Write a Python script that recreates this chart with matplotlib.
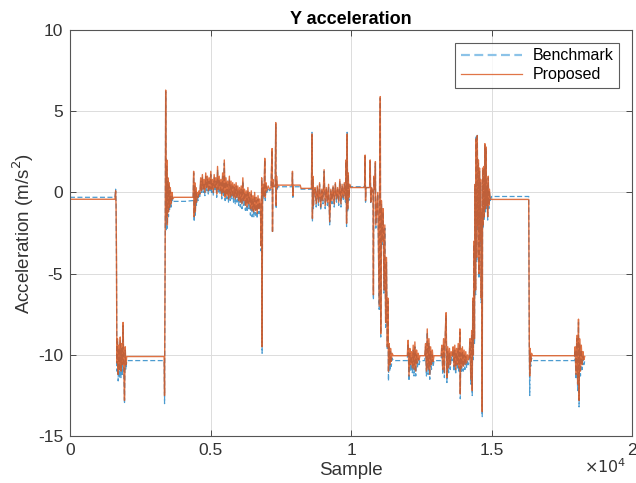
import numpy as np
import matplotlib
matplotlib.use("Agg")
import matplotlib.pyplot as plt
from matplotlib.ticker import FuncFormatter
from matplotlib.lines import Line2D

# ---- data (sample index, proposed, benchmark) ----
sample = [
    0, 1600,
    1625, 1640, 1655, 1670,
    1690, 1715, 1740, 1765, 1790, 1815, 1840, 1865, 1890, 1915, 1940, 1965, 1990,
    2020, 3350,
    3365, 3385, 3405, 3425, 3445, 3465, 3485, 3505, 3525, 3545, 3570, 3600, 3630, 3660,
    3700, 4100, 4380,
    4400, 4420, 4440, 4460, 4480, 4500, 4530, 4560, 4590, 4620,
    4650, 4680, 4710, 4740, 4770, 4800, 4830, 4860, 4890, 4920, 4950, 4980,
    5010, 5040, 5070, 5100, 5130, 5160, 5190, 5220, 5250, 5280, 5310, 5340,
    5370, 5400, 5430, 5460, 5490, 5520, 5550, 5580, 5610, 5640, 5670, 5700,
    5730, 5760, 5790, 5820, 5850, 5880, 5910, 5940, 5970, 6000, 6030, 6060,
    6090, 6120, 6150, 6180, 6210, 6240, 6270, 6300, 6330, 6360, 6390, 6420,
    6450, 6480, 6510, 6540, 6570, 6600, 6630, 6660, 6690, 6720, 6750, 6780,
    6800, 6820, 6835, 6850, 6870, 6900, 6930, 6950, 6970, 7000, 7050, 7100, 7150,
    7190, 7205, 7220, 7240, 7300, 7320, 7335, 7350, 7370, 7400, 7900, 7915, 7930, 7950, 8190,
    8220, 8590,
    8610, 8625, 8640, 8660, 8690,
    8720, 8760, 8800, 8840, 8880, 8920, 8960, 9000, 9040, 9080, 9120, 9160, 9200, 9240,
    9280, 9320, 9360, 9400, 9440, 9480, 9520, 9560, 9600, 9640, 9680, 9720, 9760, 9800,
    9820, 9840, 9860, 9880, 9900, 9920, 9950,
    9980, 10480,
    10500, 10515, 10530, 10560, 10660, 10680, 10700, 10730, 10780, 10795, 10810, 10850, 10865, 10880,
    10950, 11000, 11015, 11040, 11055, 11080, 11110, 11140, 11170, 11200, 11230, 11260, 11290, 11310,
    11330, 11355, 11380, 11405, 11430, 11460, 11500, 12000,
    12030, 12060, 12090, 12120, 12150, 12180, 12210, 12240, 12270, 12300, 12330, 12360, 12390, 12420, 12450,
    12620,
    12650, 12680, 12710, 12740, 12770, 12800, 12830, 12860, 12890, 12920, 12950,
    13200,
    13230, 13260, 13290, 13320, 13350, 13380, 13410, 13440, 13470, 13500, 13530, 13560, 13600,
    13630, 13660, 13690, 13720, 13750, 13780, 13810, 13840, 13870, 13885, 13900, 13930, 13960, 13990,
    14020, 14050, 14080, 14110, 14140, 14170, 14200,
    14230, 14260, 14290, 14310, 14330, 14350, 14370, 14390, 14410, 14430, 14450, 14470, 14490, 14510,
    14530, 14550, 14570, 14590, 14610, 14630, 14650, 14665, 14680, 14700, 14720, 14740, 14760, 14780,
    14800, 14820, 14840, 14860, 14880, 14900, 14920, 14950,
    15000, 16320,
    16340, 16355, 16370, 16390, 16420, 16450, 17950,
    17970, 18000, 18030, 18060, 18090, 18110, 18130, 18160, 18190, 18220, 18250, 18280, 18310,
]

proposed = [
    -0.42, -0.42,
    0.1, -0.8, -4.0, -10.5,
    -9.0, -11.2, -9.4, -10.9, -8.9, -11.0, -9.3, -10.6, -8.0, -10.8, -12.8, -9.5, -10.6,
    -10.1, -10.1,
    -12.5, -4.0, 6.3, -1.5, 2.0, -2.0, 0.9, -1.2, 0.6, -0.9, 0.3, -0.7, 0.0, -0.4,
    -0.3, -0.3, -0.3,
    1.3, -1.5, 0.6, -1.2, 0.3, -0.6, 0.0, -0.3, 0.1, -0.1,
    0.9, 0.1, 1.1, 0.2, 0.8, 0.0, 1.2, 0.3, 1.0, 0.1, 0.9, 0.2,
    1.3, 0.2, 0.8, 0.0, 1.1, 0.3, 0.9, -0.1, 1.6, 0.2, 1.0, 0.1,
    0.8, -0.2, 1.2, 0.0, 2.0, -0.3, 0.9, -0.2, 0.7, -0.4, 1.0, -0.3,
    0.7, -0.2, 0.6, -0.3, 0.5, -0.4, 0.6, -0.3, 0.4, -0.5, 0.3, -0.6,
    0.4, -0.7, 0.9, -0.5, 0.2, -0.8, 0.1, -0.9, 0.3, -0.7, 0.0, -1.0,
    0.1, -1.1, -0.2, -1.2, 0.0, -1.1, -0.3, -1.3, -0.2, -1.0, -0.4, -1.2,
    -3.3, 0.9, -9.5, -0.5, 0.5, -0.2, 2.1, -0.3, 0.6, 0.1, 0.4, 0.2, 0.3,
    2.7, -2.4, 0.8, 0.4, 0.4, 4.3, -0.8, 1.0, 0.3, 0.45, 0.45, 1.3, -0.2, 0.45, 0.45,
    0.25, 0.25,
    3.6, -1.6, 1.0, -0.8, 0.2,
    0.3, -0.7, 0.4, -0.6, 0.6, -0.9, 0.2, -0.5, 1.4, -0.8, 0.3, -0.6, 0.5, -1.8,
    0.2, -0.5, 0.4, -0.7, 0.6, -0.4, 0.3, -0.6, 0.8, -0.7, 0.5, -0.3, 0.6, -0.4,
    2.0, -1.9, 3.6, -1.0, 1.2, -0.3, 0.5,
    0.3, 0.3,
    2.3, -0.5, 0.3, 0.3, 0.3, 2.0, -0.6, 0.3, 0.0, -6.3, 1.0, 0.2, 1.9, -2.0,
    0.0, -7.0, 0.5, 5.9, -8.7, -0.5, -3.0, -1.0, -6.0, -2.0, -8.0, -4.0, -9.5, -6.5,
    -11.0, -9.3, -10.6, -9.6, -10.4, -9.9, -10.05, -10.05,
    -9.1, -11.3, -9.6, -10.6, -9.8, -10.8, -9.4, -10.9, -9.2, -11.0, -9.7, -10.5, -9.9, -10.3, -10.05,
    -10.05,
    -9.3, -11.0, -8.4, -10.9, -9.0, -11.2, -9.5, -10.6, -9.7, -10.4, -10.05,
    -10.05,
    -9.4, -10.9, -9.0, -11.1, -8.6, -7.4, -11.4, -9.5, -10.8, -9.6, -10.6, -9.8, -10.05,
    -9.5, -10.7, -9.4, -10.9, -9.6, -10.6, -9.3, -10.8, -8.4, -12.4, -9.6, -10.8, -9.5, -10.7,
    -9.7, -10.6, -9.8, -10.5, -10.0, -10.3, -10.1,
    -9.0, -11.5, -8.5, -12.2, -6.5, -10.0, -3.0, -9.0, 0.5, -6.0, 3.3, -4.0, 3.5, -2.0,
    2.0, -5.0, 1.5, -3.0, 0.8, -6.5, -1.0, -13.5, 1.5, -2.0, 1.6, -1.5, 3.0, -1.0,
    2.8, -0.8, 0.5, -1.5, 1.0, -0.8, 0.2, -0.4,
    -0.43, -0.43,
    -9.4, -11.3, -9.6, -10.4, -9.9, -10.05, -10.05,
    -9.5, -11.2, -8.8, -11.8, -7.8, -12.8, -9.0, -11.0, -9.4, -10.6, -9.8, -10.3, -10.1,
]

benchmark = [
    -0.30, -0.30,
    0.2, -0.6, -4.5, -11.0,
    -9.2, -11.6, -9.6, -11.4, -9.1, -11.4, -9.6, -11.2, -8.2, -11.0, -13.0, -9.7, -10.9,
    -10.35, -10.35,
    -13.0, -4.5, 6.2, -2.3, 1.6, -2.2, 0.7, -1.5, 0.4, -1.1, 0.1, -0.9, -0.2, -0.6,
    -0.55, -0.55, -0.5,
    1.2, -1.8, 0.4, -1.4, 0.1, -0.8, -0.2, -0.5, -0.1, -0.3,
    0.7, 0.0, 0.9, 0.0, 0.6, -0.2, 1.0, 0.1, 0.8, -0.1, 0.7, 0.0,
    1.1, 0.0, 0.6, -0.2, 0.9, 0.1, 0.7, -0.3, 1.4, 0.0, 0.8, -0.1,
    0.6, -0.4, 1.0, -0.2, 1.8, -0.5, 0.7, -0.4, 0.5, -0.6, 0.8, -0.5,
    0.5, -0.4, 0.4, -0.6, 0.3, -0.7, 0.4, -0.6, 0.2, -0.8, 0.1, -0.9,
    0.2, -1.0, 0.7, -0.8, 0.0, -1.1, -0.1, -1.2, 0.1, -1.0, -0.2, -1.4,
    -0.1, -1.5, -0.4, -1.5, -0.2, -1.4, -0.5, -1.6, -0.4, -1.3, -0.6, -1.5,
    -3.6, 0.8, -9.9, -0.8, 0.3, -0.4, 2.0, -0.5, 0.4, 0.0, 0.3, 0.1, 0.2,
    2.6, -2.5, 0.6, 0.35, 0.35, 4.2, -1.0, 0.8, 0.2, 0.35, 0.35, 1.2, -0.3, 0.35, 0.35,
    0.2, 0.2,
    3.7, -1.8, 0.8, -1.0, 0.0,
    0.2, -0.9, 0.3, -0.8, 0.5, -1.1, 0.1, -0.7, 1.3, -1.0, 0.2, -0.8, 0.4, -2.0,
    0.1, -0.7, 0.3, -0.9, 0.5, -0.6, 0.2, -0.8, 0.7, -0.9, 0.4, -0.5, 0.5, -0.6,
    1.9, -2.1, 3.7, -1.2, 1.1, -0.5, 0.4,
    0.35, 0.35,
    2.2, -0.6, 0.3, 0.3, 0.3, 1.9, -0.7, 0.3, -0.1, -6.6, 0.9, 0.1, 1.8, -2.2,
    -0.1, -7.2, 0.4, 5.8, -8.9, -0.7, -3.2, -1.2, -6.2, -2.2, -8.3, -4.3, -9.7, -6.7,
    -11.6, -9.5, -11.0, -9.8, -10.7, -10.2, -10.35, -10.35,
    -9.3, -11.6, -9.9, -11.0, -10.1, -11.1, -9.7, -11.3, -9.5, -11.3, -10.0, -10.8, -10.2, -10.6, -10.35,
    -10.35,
    -9.5, -11.3, -8.6, -11.2, -9.3, -11.5, -9.8, -10.9, -10.0, -10.7, -10.35,
    -10.35,
    -9.6, -11.2, -9.3, -11.4, -8.9, -7.6, -11.7, -9.8, -11.1, -9.9, -10.9, -10.1, -10.35,
    -9.7, -11.0, -9.7, -11.2, -9.9, -10.9, -9.6, -11.1, -8.6, -12.7, -9.9, -11.1, -9.8, -11.0,
    -10.0, -10.9, -10.1, -10.8, -10.3, -10.6, -10.4,
    -9.2, -11.8, -8.7, -12.5, -6.7, -10.3, -3.2, -9.3, 0.4, -6.3, 3.5, -4.3, 3.6, -2.3,
    1.8, -5.3, 1.3, -3.3, 0.6, -6.8, -1.2, -13.8, 1.4, -2.2, 1.5, -1.7, 2.9, -1.2,
    2.7, -1.0, 0.4, -1.7, 0.9, -1.0, 0.1, -0.5,
    -0.25, -0.25,
    -9.6, -12.5, -9.9, -10.7, -10.2, -10.35, -10.35,
    -9.7, -11.5, -9.0, -12.2, -8.0, -13.2, -9.3, -11.3, -9.7, -10.9, -10.1, -10.6, -10.4,
]

x_ticks = [0, 5000, 10000, 15000, 20000]
x_tick_labels = ["0", "0.5", "1", "1.5", "2"]
y_ticks = [-15, -10, -5, 0, 5, 10]

plt.rcParams['font.family'] = ['Liberation Sans', 'DejaVu Sans']
plt.rcParams['axes.unicode_minus'] = False

fig = plt.figure(figsize=(6.36, 4.83), dpi=100)
ax = fig.add_axes([0.110, 0.097, 0.884, 0.841])

ax.plot(sample, benchmark, '--', color='#0072BD', lw=0.9, alpha=0.7, dashes=(4, 2))
ax.plot(sample, proposed, '-', color='#D95319', lw=1.0, alpha=0.82)

ax.set_xlim(0, 20000)
ax.set_ylim(-15, 10)
ax.set_xticks(x_ticks)
ax.xaxis.set_major_formatter(FuncFormatter(lambda v, pos: x_tick_labels[pos] if pos is not None and pos < len(x_tick_labels) else ""))
ax.set_yticks(y_ticks)

ax.grid(True, color='#dcdcdc', lw=0.7)
ax.set_axisbelow(True)
for s in ax.spines.values():
    s.set_color('#555555')
    s.set_linewidth(0.8)
ax.tick_params(direction='in', top=True, right=True, length=4, width=0.6,
               labelsize=12.5, colors='#333333', pad=5)

ax.set_title('Y acceleration', fontsize=13, fontweight='bold', color='#000000', pad=4)
ax.set_xlabel('Sample', fontsize=13.5, color='#333333', labelpad=3)
ax.set_ylabel('Acceleration (m/s$^2$)', fontsize=13.5, color='#333333', labelpad=1)
ax.text(0.99, -0.09, r'$\times10^{4}$', transform=ax.transAxes, ha='right', va='baseline',
        fontsize=11.5, color='#333333')

handles = [Line2D([], [], color='#8cc3e8', lw=1.6, ls=(0, (4, 2))),
           Line2D([], [], color='#D95319', lw=0.9, alpha=0.8)]
leg = ax.legend(handles, ['Benchmark', 'Proposed'], loc='upper right', fontsize=11.5,
                frameon=True, fancybox=False, edgecolor='#333333', borderpad=0.35,
                handlelength=3.8, handletextpad=0.7, labelspacing=0.25, borderaxespad=0.8)
leg.get_frame().set_linewidth(0.8)

fig.savefig('out.png', dpi=100)
